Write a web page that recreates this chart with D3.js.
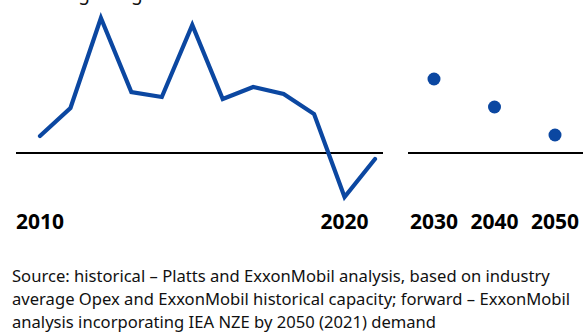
<!DOCTYPE html>
<html>
<head>
<meta charset="utf-8">
<script src="https://cdn.jsdelivr.net/npm/d3@7"></script>
<style>
  html, body { margin: 0; padding: 0; background: #fff; }
  svg { display: block; }
</style>
</head>
<body>
<div id="chart"></div>
<script>
// Historical refining margin (index units), 2010–2021
const histYears = [2010, 2011, 2012, 2013, 2014, 2015, 2016, 2017, 2018, 2019, 2020, 2021];
const histValues = [1.7, 4.5, 13.5, 6.1, 5.6, 12.8, 5.4, 6.6, 5.9, 3.9, -4.4, -0.6];

// Forward outlook points
const fwdYears = [2030, 2040, 2050];
const fwdValues = [7.4, 4.6, 1.8];

// Tick labels shown under each panel
const histTicks = [2010, 2020];
const fwdTicks = [2030, 2040, 2050];

const titleText = "Refining margin";
const sourceLines = [
  "Source: historical \u2013 Platts and ExxonMobil analysis, based on industry",
  "average Opex and ExxonMobil historical capacity; forward \u2013 ExxonMobil",
  "analysis incorporating IEA NZE by 2050 (2021) demand"
];

const W = 583, H = 335;
const blue = "#0b47a1";
const font = "'Noto Sans', 'Open Sans', sans-serif";

const svg = d3.select("#chart").append("svg")
  .attr("width", W).attr("height", H);

// Shared vertical scale
const y = d3.scaleLinear().domain([-5, 15]).range([203, 3]);

// Separate horizontal scales for the two panels
const xHist = d3.scaleLinear().domain([2010, 2021]).range([40, 375]);
const xFwd = d3.scaleLinear().domain([2030, 2050]).range([434, 555]);

// Title (sits at the very top edge)
svg.append("text")
  .attr("x", 16).attr("y", 0)
  .attr("font-family", font).attr("font-size", 19)
  .attr("fill", "#111")
  .text(titleText);

// Zero baselines for each panel
const zeroY = y(0);
svg.append("line")
  .attr("x1", 16).attr("x2", 383)
  .attr("y1", zeroY).attr("y2", zeroY)
  .attr("stroke", "#000").attr("stroke-width", 2.2);
svg.append("line")
  .attr("x1", 408).attr("x2", W)
  .attr("y1", zeroY).attr("y2", zeroY)
  .attr("stroke", "#000").attr("stroke-width", 2.2);

// Historical line
const line = d3.line()
  .x((d, i) => xHist(histYears[i]))
  .y(d => y(d));

svg.append("path")
  .datum(histValues)
  .attr("d", line)
  .attr("fill", "none")
  .attr("stroke", blue)
  .attr("stroke-width", 4.2)
  .attr("stroke-linejoin", "miter")
  .attr("stroke-linecap", "round");

// Forward points
svg.selectAll("circle.fwd")
  .data(fwdValues)
  .join("circle")
  .attr("class", "fwd")
  .attr("cx", (d, i) => xFwd(fwdYears[i]))
  .attr("cy", d => y(d))
  .attr("r", 6.5)
  .attr("fill", blue);

// Year labels
const labelY = 229;
svg.selectAll("text.hist-tick")
  .data(histTicks)
  .join("text")
  .attr("class", "hist-tick")
  .attr("x", d => xHist(d))
  .attr("y", labelY)
  .attr("text-anchor", "middle")
  .attr("font-family", font).attr("font-size", 21).attr("font-weight", 700)
  .attr("fill", "#000")
  .text(d => d);

svg.selectAll("text.fwd-tick")
  .data(fwdTicks)
  .join("text")
  .attr("class", "fwd-tick")
  .attr("x", d => xFwd(d))
  .attr("y", labelY)
  .attr("text-anchor", "middle")
  .attr("font-family", font).attr("font-size", 21).attr("font-weight", 700)
  .attr("fill", "#000")
  .text(d => d);

// Source note
svg.selectAll("text.source")
  .data(sourceLines)
  .join("text")
  .attr("class", "source")
  .attr("x", 12)
  .attr("y", (d, i) => 282 + i * 23)
  .attr("font-family", font).attr("font-size", 16.6)
  .attr("fill", "#111")
  .text(d => d);
</script>
</body>
</html>
